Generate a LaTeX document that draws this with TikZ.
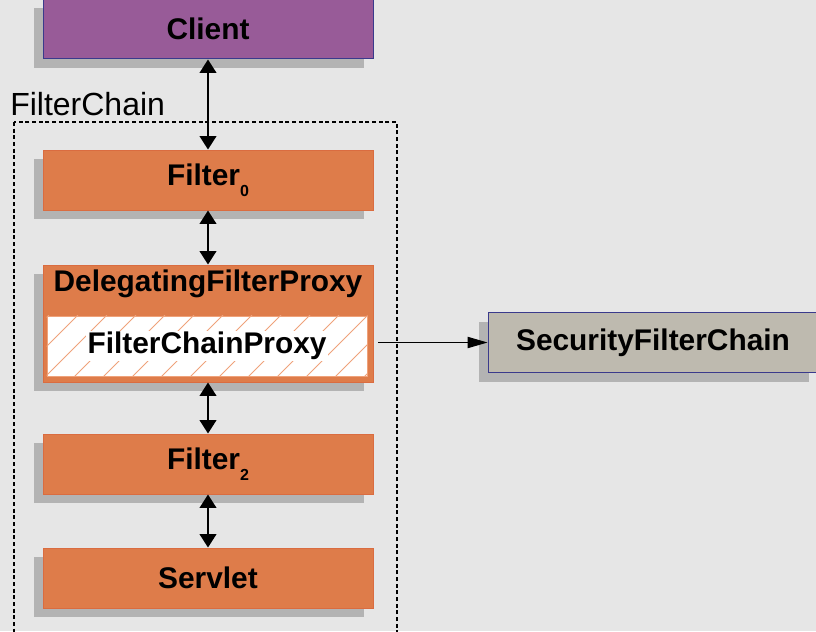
\documentclass[tikz,border=0pt]{standalone}
\usepackage{fontspec}
\setmainfont{Liberation Sans}
\usepackage{tikz}
\usetikzlibrary{arrows.meta,shadows}
\definecolor{bg}{HTML}{E6E6E6}
\definecolor{plum}{HTML}{985B98}
\definecolor{navy}{HTML}{3A3A8C}
\definecolor{orange}{HTML}{DE7C4A}
\definecolor{orangeline}{HTML}{DA6C40}
\definecolor{hatchc}{HTML}{EFA27A}
\definecolor{stone}{HTML}{BEBAAF}
\definecolor{shade}{HTML}{B3B3B3}
\newcommand{\subidx}[1]{\raisebox{-8.5pt}{\fontsize{12}{13}\selectfont #1}}
\tikzset{
  box/.style={rectangle, minimum width=247.5pt, minimum height=45pt, inner sep=0pt,
    line width=0.75pt, font=\fontsize{22.4}{26}\selectfont\bfseries,
    drop shadow={shadow xshift=-6.75pt, shadow yshift=-6.75pt, fill=shade, opacity=1}},
  clientbox/.style={box, fill=plum, draw=navy},
  filterbox/.style={box, fill=orange, draw=orangeline},
  chainbox/.style={box, fill=stone, draw=navy},
  proxybox/.style={rectangle, minimum width=240pt, minimum height=45pt, inner sep=0pt,
    fill=white, draw=hatchc, line width=0.75pt},
  boxlabel/.style={inner sep=0pt, font=\fontsize{22.4}{26}\selectfont\bfseries},
  proxylabel/.style={boxlabel, fill=white, inner sep=1pt},
  hatch/.style={draw=hatchc, line width=0.75pt},
  frame/.style={draw=black, line width=0.9pt, dash pattern=on 3pt off 2pt},
  framelabel/.style={inner sep=0pt, anchor=base west, font=\fontsize{24}{28}\selectfont},
  biarrow/.style={draw=black, line width=1.1pt, {Triangle[length=10pt,width=12.5pt]}-{Triangle[length=10pt,width=12.5pt]}},
  onearrow/.style={draw=black, line width=0.75pt, -{Triangle[length=15pt,width=8.5pt]}}
}
\begin{document}
\begin{tikzpicture}[x=0.75pt, y=-0.75pt]
  \useasboundingbox (0,0) rectangle (816,631);
  \fill[bg] (0,0) rectangle (816,631);

  % chain frame
  \draw[frame] (14,122) rectangle (397,660);
  \node[framelabel] (chainname) at (10,116) {FilterChain};

  \node[clientbox] (client) at (208,29) {Client};
  \node[filterbox] (filter0) at (208,180) {Filter\subidx{0}};
  \node[filterbox, minimum height=87.75pt] (dfp) at (208,323.5) {};
  \node[boxlabel] (dfpname) at (208,284) {DelegatingFilterProxy};
  \node[proxybox] (fcp) at (207,346) {};
  \node[filterbox] (filter2) at (208,464) {Filter\subidx{2}};
  \node[filterbox] (servlet) at (208,578) {Servlet};
  \node[chainbox] (sfc) at (653,342.5) {SecurityFilterChain};

  % hatching of the proxy
  \begin{scope}
    \clip (fcp.south west) rectangle (fcp.north east);
    \foreach \x in {-13,16,...,380}
      \draw[hatch] (\x,377) -- ++(62,-62);
  \end{scope}
  \node[proxylabel] (fcpname) at (fcp) {FilterChainProxy};

  \draw[biarrow] (client) -- (filter0);
  \draw[biarrow] (filter0) -- (dfp);
  \draw[biarrow] (dfp) -- (filter2);
  \draw[biarrow] (filter2) -- (servlet);
  \draw[onearrow] ([xshift=8pt]fcp.east |- sfc.west) -- (sfc.west);
\end{tikzpicture}
\end{document}
